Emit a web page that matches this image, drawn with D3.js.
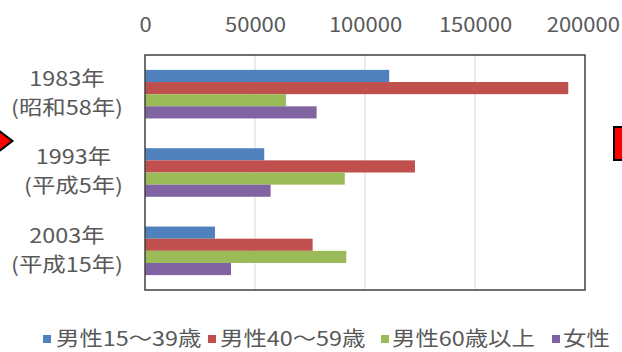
<!DOCTYPE html>
<html>
<head>
<meta charset="utf-8">
<script src="https://cdn.jsdelivr.net/npm/d3@7"></script>
<style>
  html, body { margin: 0; padding: 0; background: #fff; }
  svg text { font-family: "Noto Sans CJK JP", "Noto Sans", sans-serif; fill: #595959; }
</style>
</head>
<body>
<svg id="chart" width="622" height="352"></svg>
<script>
// Survey years (two-line labels) and the four population groups
const years = ["1983年", "1993年", "2003年"];
const eras = ["(昭和58年)", "(平成5年)", "(平成15年)"];
const seriesNames = ["男性15～39歳", "男性40～59歳", "男性60歳以上", "女性"];
const seriesColors = ["#4F81BD", "#C0504D", "#9BBB59", "#8064A2"];
const male15to39 = [111000, 54200, 31800];
const male40to59 = [192400, 122700, 76200];
const male60plus = [64100, 90800, 91500];
const female = [78000, 57100, 39100];
const tickValues = [0, 50000, 100000, 150000, 200000];

const seriesValues = [male15to39, male40to59, male60plus, female];

const svg = d3.select("#chart");
const plot = { left: 145, right: 585, top: 55, bottom: 290 };
const textStretch = 1.17;   // wide lettering used throughout the slide
const tickStretch = 1.1;

const x = d3.scaleLinear().domain([0, 200000]).range([plot.left, plot.right]);
const y = d3.scaleBand().domain(years).range([plot.top, plot.bottom])
  .paddingInner(0.38).paddingOuter(0.19);
const ySeries = d3.scaleBand().domain(d3.range(seriesNames.length))
  .range([0, y.bandwidth()]);

// slide decorations on both sides
svg.append("path")
  .attr("d", "M-6,127 L12.5,141 L-6,155 Z")
  .attr("fill", "#FF0000").attr("stroke", "#000").attr("stroke-width", 2);
svg.append("rect")
  .attr("x", 614).attr("y", 127).attr("width", 20).attr("height", 33)
  .attr("fill", "#FF0000").attr("stroke", "#000").attr("stroke-width", 2);

// vertical gridlines
svg.append("g").selectAll("line").data(tickValues.slice(1, -1)).join("line")
  .attr("x1", d => x(d)).attr("x2", d => x(d))
  .attr("y1", plot.top).attr("y2", plot.bottom)
  .attr("stroke", "#D9D9D9").attr("stroke-width", 1);

// bars
const groups = svg.append("g").selectAll("g").data(years).join("g")
  .attr("transform", d => `translate(0,${y(d)})`);
groups.selectAll("rect")
  .data((d, i) => seriesValues.map((vals, s) => ({ s, v: vals[i] })))
  .join("rect")
  .attr("x", x(0))
  .attr("y", d => ySeries(d.s))
  .attr("width", d => x(d.v) - x(0))
  .attr("height", ySeries.bandwidth())
  .attr("fill", d => seriesColors[d.s]);

// plot frame
svg.append("rect")
  .attr("x", plot.left).attr("y", plot.top)
  .attr("width", plot.right - plot.left).attr("height", plot.bottom - plot.top)
  .attr("fill", "none").attr("stroke", "#404040").attr("stroke-width", 1.5);

// value axis across the top
const xAxis = svg.append("g")
  .attr("transform", "translate(0,32)")
  .call(d3.axisTop(x).tickValues(tickValues).tickFormat(d3.format("d")).tickSize(0).tickPadding(0));
xAxis.select(".domain").remove();
xAxis.selectAll("text")
  .attr("dy", 0)
  .attr("x", (d, i) => i === tickValues.length - 1 ? -2 : 0)
  .attr("transform", `scale(${tickStretch},1)`)
  .style("font-size", "20px")
  .style("font-family", "\"Noto Sans CJK JP\", sans-serif")
  .attr("fill", "#595959");

// two-line category labels, right-aligned as a block, centred line by line
const labelRight = 123;
const catLabels = svg.append("g").selectAll("g").data(years).join("g");
catLabels.each(function (d, i) {
  const g = d3.select(this);
  const c = y(d) + y.bandwidth() / 2;
  const t = g.append("text").style("font-size", "20px").attr("text-anchor", "middle");
  const l1 = t.append("tspan").text(d).attr("x", 0).attr("y", c - 8);
  const l2 = t.append("tspan").text(eras[i]).attr("x", 0).attr("y", c + 21);
  const w = textStretch * Math.max(l1.node().getComputedTextLength(), l2.node().getComputedTextLength());
  g.attr("transform", `translate(${labelRight - w / 2},0) scale(${textStretch},1)`);
});

// legend along the bottom
const legendItems = [
  { sq: 43, tx: 56 },
  { sq: 208, tx: 220 },
  { sq: 381, tx: 392 },
  { sq: 552, tx: 563 }
];
const legend = svg.append("g").selectAll("g").data(seriesNames).join("g");
legend.append("rect")
  .attr("x", (d, i) => legendItems[i].sq).attr("y", 335)
  .attr("width", 8).attr("height", 8)
  .attr("fill", (d, i) => seriesColors[i]);
legend.append("g")
  .attr("transform", (d, i) => `translate(${legendItems[i].tx},346) scale(${textStretch},1)`)
  .append("text")
  .style("font-size", "20px")
  .text(d => d);
</script>
</body>
</html>
